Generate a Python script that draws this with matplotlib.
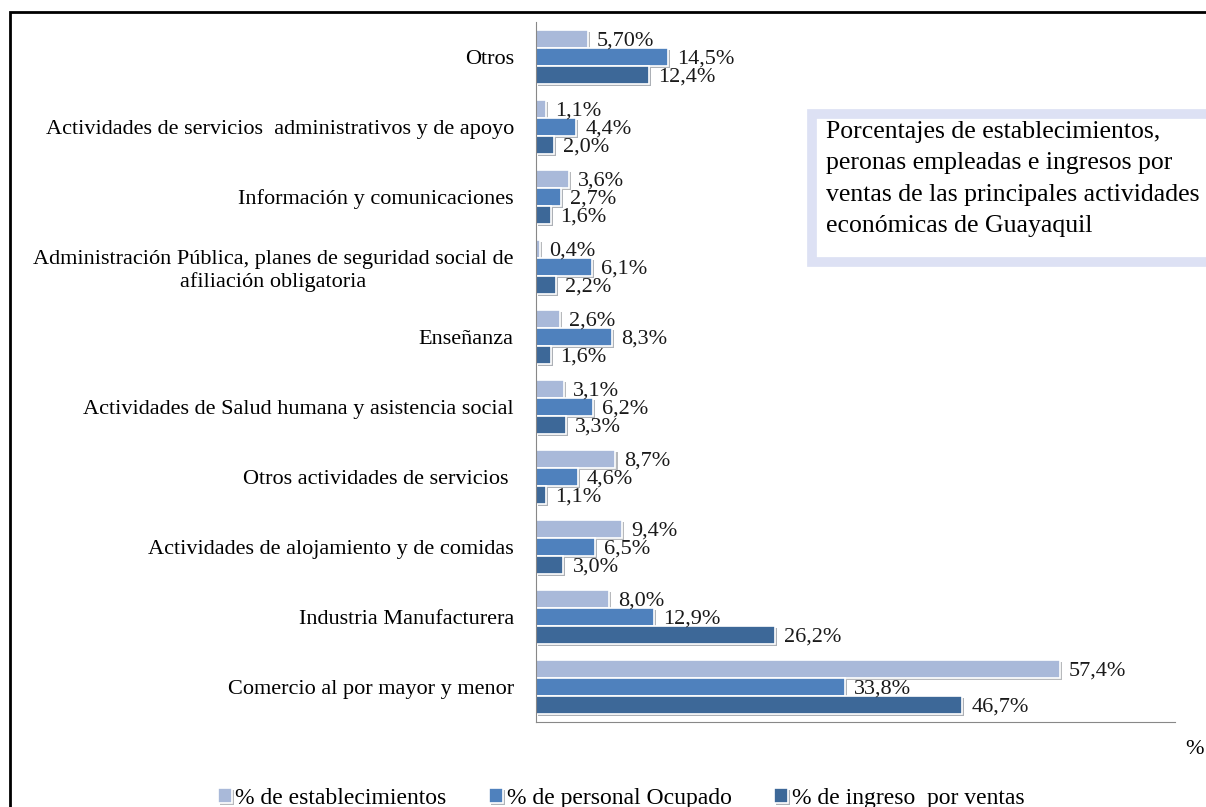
import numpy as np
import matplotlib
matplotlib.use('Agg')
import matplotlib.pyplot as plt
import matplotlib.patches as mpatches
import matplotlib.patheffects as pe

plt.rcParams['font.family'] = ['Liberation Serif', 'DejaVu Serif']

# datos
categorias = [
    "Otros",
    "Actividades de servicios  administrativos y de apoyo",
    "Información y comunicaciones",
    "Administración Pública, planes de seguridad social de\nafiliación obligatoria",
    "Enseñanza",
    "Actividades de Salud humana y asistencia social",
    "Otros actividades de servicios ",
    "Actividades de alojamiento y de comidas",
    "Industria Manufacturera",
    "Comercio al por mayor y menor",
]
establecimientos = [5.70, 1.1, 3.6, 0.4, 2.6, 3.1, 8.7, 9.4, 8.0, 57.4]
personal = [14.5, 4.4, 2.7, 6.1, 8.3, 6.2, 4.6, 6.5, 12.9, 33.8]
ingreso = [12.4, 2.0, 1.6, 2.2, 1.6, 3.3, 1.1, 3.0, 26.2, 46.7]
etq_establecimientos = ["5,70%", "1,1%", "3,6%", "0,4%", "2,6%", "3,1%", "8,7%", "9,4%", "8,0%", "57,4%"]
etq_personal = ["14,5%", "4,4%", "2,7%", "6,1%", "8,3%", "6,2%", "4,6%", "6,5%", "12,9%", "33,8%"]
etq_ingreso = ["12,4%", "2,0%", "1,6%", "2,2%", "1,6%", "3,3%", "1,1%", "3,0%", "26,2%", "46,7%"]
series = ["% de establecimientos", "% de personal Ocupado", "% de ingreso  por ventas"]
colores = ['#A9B9D9', '#4F81BD', '#3D6898']

fig = plt.figure(figsize=(12.06, 8.07), dpi=100)
ax = fig.add_axes([536 / 1206, 1 - 722 / 807, (1175 - 536) / 1206, 700 / 807])

y = np.arange(len(categorias))
h = 0.26
sombra = [pe.SimplePatchShadow(offset=(1.5, -1.5), alpha=0.35), pe.Normal()]
for i, (vals, etqs) in enumerate(zip([establecimientos, personal, ingreso],
                                      [etq_establecimientos, etq_personal, etq_ingreso])):
    pos = y + (i - 1) * h
    bars = ax.barh(pos, vals, height=h, color=colores[i], edgecolor='white',
                   linewidth=1.2, label=series[i])
    for b in bars:
        b.set_path_effects(sombra)
    for p, v, t in zip(pos, vals, etqs):
        ax.text(v + 1.0, p + 0.03, t, va='center', ha='left', fontsize=16, color='#1a1a1a')

ax.set_ylim(len(categorias) - 0.5, -0.5)
ax.set_xlim(0, 70)
ax.set_yticks(y)
ax.set_yticklabels(categorias, fontsize=16, multialignment='center')
ax.tick_params(axis='y', length=0, pad=16)
ax.tick_params(axis='x', length=0, labelbottom=False)
for s in ['top', 'right']:
    ax.spines[s].set_visible(False)
ax.spines['left'].set_color('#888888')
ax.spines['bottom'].set_color('#888888')
ax.set_xlabel('%', fontsize=16)
ax.xaxis.set_label_coords(1.03, -0.025)

# cuadro de texto
caja = mpatches.Rectangle((812 / 1206, 1 - 262 / 807), 420 / 1206, 148 / 807,
                          transform=fig.transFigure, facecolor='white',
                          edgecolor='#DDE1F4', linewidth=7, clip_on=False)
fig.add_artist(caja)
fig.text(826 / 1206, 1 - 121 / 807,
         "Porcentajes de establecimientos,\nperonas empleadas e ingresos por\n"
         "ventas de las principales actividades\neconómicas de Guayaquil",
         fontsize=18.5, va='top', ha='left', linespacing=1.55)

# marco
marco = mpatches.Rectangle((10 / 1206, -0.1), 1.2, 1 - 12 / 807 + 0.1,
                           transform=fig.transFigure, fill=False,
                           edgecolor='black', linewidth=2, clip_on=False)
fig.add_artist(marco)

fig.legend(loc='lower center', bbox_to_anchor=(0.515, -0.029), ncol=3, frameon=False,
           fontsize=17, handlelength=0.6, handleheight=0.6, columnspacing=1.8,
           handletextpad=0.15)

fig.savefig('out.png', dpi=100)
